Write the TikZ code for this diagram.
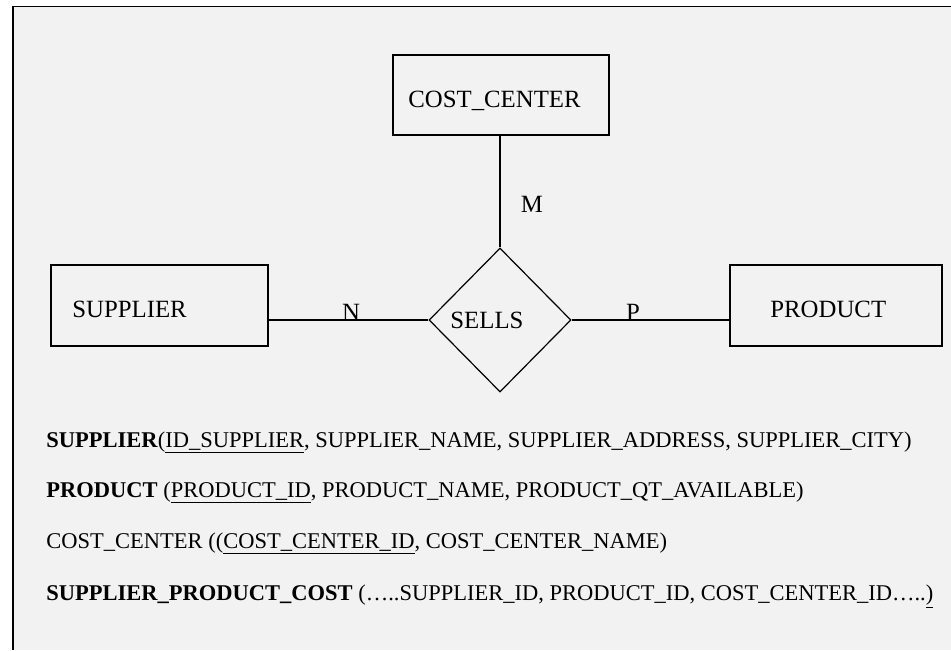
\documentclass[tikz,border=0pt]{standalone}
\usepackage{fontspec}
\setmainfont{Liberation Serif}
\usetikzlibrary{shapes.geometric}
\definecolor{sheet}{HTML}{F2F2F2}
\tikzstyle{entity}=[draw, line width=0.6pt, minimum height=40.5pt, inner sep=0]
\tikzstyle{relation}=[draw, diamond, line width=0.6pt, minimum width=71pt, minimum height=72pt, inner sep=0]
\tikzstyle{link}=[line width=0.6pt]
\tikzstyle{label}=[anchor=base west, inner sep=0]
\tikzstyle{card}=[anchor=base, inner sep=0]
\tikzstyle{schema}=[anchor=base west, inner sep=0, font=\fontsize{11.25}{13}\selectfont]

\begin{document}
\begin{tikzpicture}[x=0.5pt, y=-0.5pt, font=\fontsize{12.4}{14}\selectfont]
  \useasboundingbox (0,0) rectangle (951,650);
  \fill[sheet] (13,6.5) rectangle (951,650);
  \draw[line width=0.8pt] (13,650) -- (13,6.5) -- (951,6.5);

  % entities and relationship
  \node[entity, minimum width=108pt, minimum height=40pt] (cost) at (501,95) {};
  \node[label] (cost_text) at (408,107) {COST\_CENTER};

  \node[entity, minimum width=108.5pt] (supplier) at (159.5,305.5) {};
  \node[label] (supplier_text) at (72,317) {SUPPLIER};

  \node[entity, minimum width=106pt] (product) at (836,305.5) {};
  \node[label] (product_text) at (770,317) {PRODUCT};

  \node[relation] (sells) at (500,320) {};
  \node[label] (sells_text) at (450,328) {SELLS};

  \draw[link] (sells.north |- cost.south) to (sells.north);
  \draw[link] (supplier.east |- sells.west) to (sells.west);
  \draw[link] (sells.east) to (product.west |- sells.east);

  \node[card] (card_m) at (532,212) {M};
  \node[card] (card_n) at (351,320) {N};
  \node[card] (card_p) at (633,320) {P};

  % relational schema
  \node[schema] (schema_supplier) at (46,447)
    {\textbf{SUPPLIER}(\underline{ID\_SUPPLIER}, SUPPLIER\_NAME, SUPPLIER\_ADDRESS, SUPPLIER\_CITY)};
  \node[schema] (schema_product) at (46,497)
    {\textbf{PRODUCT} (\underline{PRODUCT\_ID}, PRODUCT\_NAME, PRODUCT\_QT\_AVAILABLE)};
  \node[schema] (schema_cost) at (46,548)
    {COST\_CENTER ((\underline{COST\_CENTER\_ID}, COST\_CENTER\_NAME)};
  \node[schema] (schema_spc) at (46,600)
    {\textbf{SUPPLIER\_PRODUCT\_COST} (…..SUPPLIER\_ID, PRODUCT\_ID, COST\_CENTER\_ID…..\underline{)}};
\end{tikzpicture}
\end{document}
